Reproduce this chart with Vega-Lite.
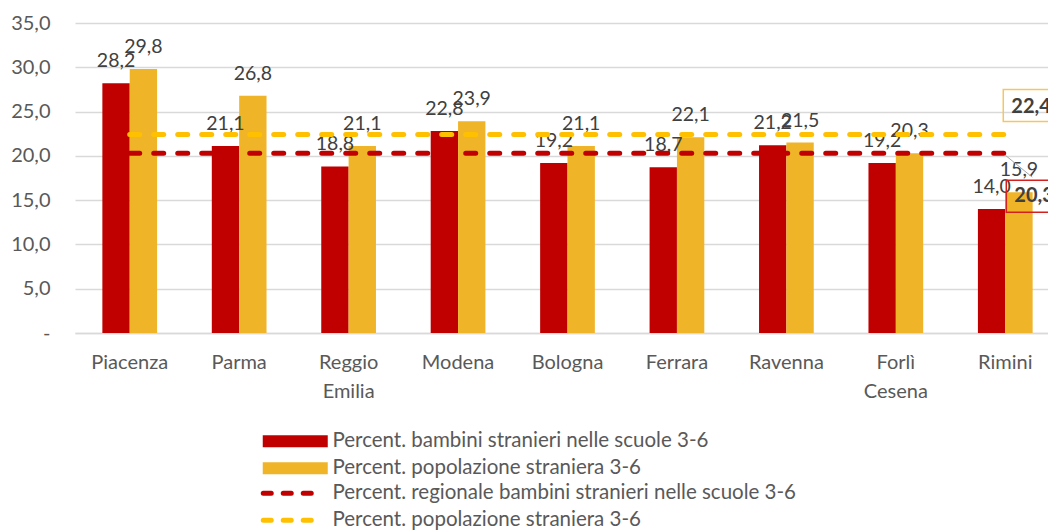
{
  "$schema": "https://vega.github.io/schema/vega-lite/v6.json",
  "autosize": {"type": "none"},
  "padding": {"left": 75, "top": 23, "right": 0, "bottom": 197},
  "width": 973,
  "height": 310,
  "background": "white",
  "config": {
    "font": "Lato",
    "view": {"stroke": null},
    "locale": {"number": {"decimal": ",", "thousands": ".", "grouping": [3], "currency": ["", " €"]}}
  },
  "data": {
    "values": [
      {"prov": "Piacenza", "tipo": "bar", "serie": "b1", "val": 28.2},
      {"prov": "Piacenza", "tipo": "bar", "serie": "b2", "val": 29.8},
      {"prov": "Parma", "tipo": "bar", "serie": "b1", "val": 21.1},
      {"prov": "Parma", "tipo": "bar", "serie": "b2", "val": 26.8},
      {"prov": "Reggio Emilia", "tipo": "bar", "serie": "b1", "val": 18.8},
      {"prov": "Reggio Emilia", "tipo": "bar", "serie": "b2", "val": 21.1},
      {"prov": "Modena", "tipo": "bar", "serie": "b1", "val": 22.8},
      {"prov": "Modena", "tipo": "bar", "serie": "b2", "val": 23.9},
      {"prov": "Bologna", "tipo": "bar", "serie": "b1", "val": 19.2},
      {"prov": "Bologna", "tipo": "bar", "serie": "b2", "val": 21.1},
      {"prov": "Ferrara", "tipo": "bar", "serie": "b1", "val": 18.7},
      {"prov": "Ferrara", "tipo": "bar", "serie": "b2", "val": 22.1},
      {"prov": "Ravenna", "tipo": "bar", "serie": "b1", "val": 21.2},
      {"prov": "Ravenna", "tipo": "bar", "serie": "b2", "val": 21.5},
      {"prov": "Forlì Cesena", "tipo": "bar", "serie": "b1", "val": 19.2},
      {"prov": "Forlì Cesena", "tipo": "bar", "serie": "b2", "val": 20.3},
      {"prov": "Rimini", "tipo": "bar", "serie": "b1", "val": 14.0},
      {"prov": "Rimini", "tipo": "bar", "serie": "b2", "val": 15.9},
      {"prov": "Piacenza", "tipo": "line", "serie": "l1", "val": 20.3},
      {"prov": "Parma", "tipo": "line", "serie": "l1", "val": 20.3},
      {"prov": "Reggio Emilia", "tipo": "line", "serie": "l1", "val": 20.3},
      {"prov": "Modena", "tipo": "line", "serie": "l1", "val": 20.3},
      {"prov": "Bologna", "tipo": "line", "serie": "l1", "val": 20.3},
      {"prov": "Ferrara", "tipo": "line", "serie": "l1", "val": 20.3},
      {"prov": "Ravenna", "tipo": "line", "serie": "l1", "val": 20.3},
      {"prov": "Forlì Cesena", "tipo": "line", "serie": "l1", "val": 20.3},
      {"prov": "Rimini", "tipo": "line", "serie": "l1", "val": 20.3},
      {"prov": "Piacenza", "tipo": "line", "serie": "l2", "val": 22.4},
      {"prov": "Parma", "tipo": "line", "serie": "l2", "val": 22.4},
      {"prov": "Reggio Emilia", "tipo": "line", "serie": "l2", "val": 22.4},
      {"prov": "Modena", "tipo": "line", "serie": "l2", "val": 22.4},
      {"prov": "Bologna", "tipo": "line", "serie": "l2", "val": 22.4},
      {"prov": "Ferrara", "tipo": "line", "serie": "l2", "val": 22.4},
      {"prov": "Ravenna", "tipo": "line", "serie": "l2", "val": 22.4},
      {"prov": "Forlì Cesena", "tipo": "line", "serie": "l2", "val": 22.4},
      {"prov": "Rimini", "tipo": "line", "serie": "l2", "val": 22.4}
    ]
  },
  "encoding": {
    "x": {
      "field": "prov",
      "type": "nominal",
      "sort": null,
      "scale": {"paddingInner": 0.5, "paddingOuter": 0.25, "range": [0, 985]},
      "axis": {
        "title": null,
        "labelAngle": 0,
        "labelFontSize": 20,
        "labelColor": "#595959",
        "labelPadding": 19,
        "labelLineHeight": 29,
        "labelExpr": "split(datum.label, ' ')",
        "ticks": false,
        "domainColor": "#d9d9d9",
        "domainWidth": 1.5
      }
    },
    "y": {
      "field": "val",
      "type": "quantitative",
      "scale": {"domain": [0, 35], "nice": false},
      "axis": {
        "title": null,
        "values": [0, 5, 10, 15, 20, 25, 30, 35],
        "format": ".1f",
        "labelExpr": "datum.value == 0 ? '-' : datum.label",
        "labelFontSize": 20,
        "labelColor": "#595959",
        "labelPadding": 25,
        "ticks": false,
        "domain": false,
        "gridColor": "#d9d9d9",
        "gridWidth": 1.5
      }
    }
  },
  "layer": [
    {
      "transform": [{"filter": "datum.tipo == 'bar'"}],
      "mark": {"type": "bar"},
      "encoding": {
        "xOffset": {"field": "serie", "type": "nominal"},
        "fill": {
          "field": "serie",
          "type": "nominal",
          "scale": {"domain": ["b1", "b2"], "range": ["#C00000", "#F0B429"]},
          "legend": {
            "orient": "none",
            "legendX": 210,
            "legendY": 408,
            "direction": "vertical",
            "title": null,
            "padding": 0,
            "symbolType": "M-5.417,-1H5.417V1H-5.417Z",
            "symbolSize": 144,
            "symbolStrokeWidth": 0,
            "labelOffset": 27,
            "labelFontSize": 20.5,
            "labelColor": "#595959",
            "labelLimit": 0,
            "rowPadding": 6,
            "labelExpr": "datum.value == 'b1' ? 'Percent. bambini stranieri nelle scuole 3-6' : 'Percent. popolazione straniera 3-6'"
          }
        }
      }
    },
    {
      "transform": [{"filter": "datum.tipo == 'bar'"}],
      "mark": {"type": "text", "baseline": "middle", "dy": -22, "fontSize": 19.5, "color": "#404040"},
      "encoding": {
        "xOffset": {"field": "serie", "type": "nominal"},
        "text": {"field": "val", "type": "quantitative", "format": ".1f"}
      }
    },
    {
      "transform": [{"filter": "datum.tipo == 'line'"}],
      "mark": {"type": "line", "strokeWidth": 5, "strokeDash": [10, 14], "strokeCap": "round"},
      "encoding": {
        "stroke": {
          "field": "serie",
          "type": "nominal",
          "scale": {"domain": ["l1", "l2"], "range": ["#C00000", "#FFC000"]},
          "legend": {
            "orient": "none",
            "legendX": 210,
            "legendY": 460,
            "direction": "vertical",
            "title": null,
            "padding": 0,
            "symbolType": "M-5.333,0H2.667",
            "symbolSize": 144,
            "symbolStrokeWidth": 5,
            "symbolDash": [8, 12],
            "labelOffset": 27,
            "labelFontSize": 20.5,
            "labelColor": "#595959",
            "labelLimit": 0,
            "rowPadding": 6,
            "labelExpr": "datum.value == 'l1' ? 'Percent. regionale bambini stranieri nelle scuole 3-6' : 'Percent. popolazione straniera 3-6'",
            "encode": {"symbols": {"update": {"strokeCap": {"value": "round"}}}}
          }
        }
      }
    },
    {
      "transform": [{"filter": "datum.tipo == 'line' && datum.prov == 'Rimini' && datum.serie == 'l1'"}],
      "mark": {"type": "point", "shape": "M0,2L27,24", "size": 4, "filled": false, "stroke": "#A6A6A6", "strokeWidth": 1, "opacity": 1},
      "encoding": {}
    },
    {
      "transform": [{"filter": "datum.tipo == 'line' && datum.prov == 'Rimini' && datum.serie == 'l2'"}],
      "mark": {"type": "point", "shape": "M-2,-45H70V-13H-2Z", "size": 4, "filled": false, "stroke": "#F5C660", "strokeWidth": 1.5, "opacity": 1},
      "encoding": {}
    },
    {
      "transform": [{"filter": "datum.tipo == 'line' && datum.prov == 'Rimini' && datum.serie == 'l1'"}],
      "mark": {"type": "point", "shape": "M1,27H70V59H1Z", "size": 4, "filled": false, "stroke": "#D52020", "strokeWidth": 1.5, "opacity": 1},
      "encoding": {}
    },
    {
      "transform": [{"filter": "datum.tipo == 'line' && datum.prov == 'Rimini' && datum.serie == 'l2'"}],
      "mark": {"type": "text", "align": "left", "baseline": "middle", "dx": 6, "dy": -28, "fontSize": 20, "fontWeight": "bold", "color": "#404040"},
      "encoding": {"text": {"field": "val", "type": "quantitative", "format": ".1f"}}
    },
    {
      "transform": [{"filter": "datum.tipo == 'line' && datum.prov == 'Rimini' && datum.serie == 'l1'"}],
      "mark": {"type": "text", "align": "left", "baseline": "middle", "dx": 9, "dy": 43, "fontSize": 20, "fontWeight": "bold", "color": "#404040"},
      "encoding": {"text": {"field": "val", "type": "quantitative", "format": ".1f"}}
    }
  ]
}
